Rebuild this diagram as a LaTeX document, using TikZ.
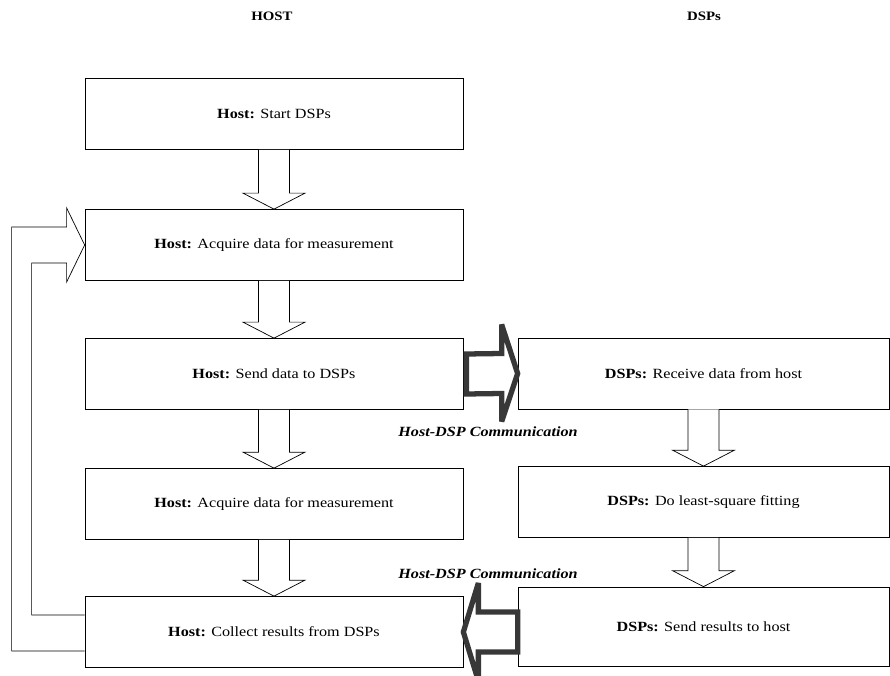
\documentclass[tikz,border=0pt]{standalone}
\usepackage{fontspec}
\setmainfont[FakeStretch=1.15]{Liberation Serif}
\usetikzlibrary{calc}
\tikzset{
stepnode/.style = {draw, rectangle, inner sep=0pt, line width=0.6pt, text centered,
font=\fontsize{12}{14}\selectfont},
hostbox/.style = {stepnode, minimum width=11.34cm, minimum height=2.13cm},% host column
dspbox/.style  = {stepnode, minimum width=11.13cm, minimum height=2.13cm},% dsp column
hollow/.style  = {draw, fill=white, line width=0.6pt},% open block arrow
comm/.style    = {draw=black!78, fill=white, line width=4.5pt, miter limit=3},% host-dsp arrow
commlabel/.style = {font=\fontsize{12}{14}\selectfont\bfseries\itshape},
heading/.style = {font=\fontsize{11}{13}\selectfont\bfseries}
}
\begin{document}
\begin{tikzpicture}[x=0.03cm, y=-0.03cm]
	\useasboundingbox (0,0) rectangle (890,676);
	% column titles
	\node [heading] (thost) at (272,16) {HOST};
	\node [heading] (tdsp) at (704,16) {DSPs};
	% host side
	\node [hostbox] (h1) at (274,114) {\textbf{Host:} Start DSPs};
	\node [hostbox] (h2) at (274,245) {\textbf{Host:} Acquire data for measurement};
	\node [hostbox] (h3) at (274,374) {\textbf{Host:} Send data to DSPs};
	\node [hostbox] (h4) at (274,504) {\textbf{Host:} Acquire data for measurement};
	\node [hostbox] (h5) at (274,632) {\textbf{Host:} Collect results from DSPs};
	% dsp side
	\node [dspbox] (d1) at (703.5,373.5) {\textbf{DSPs:} Receive data from host};
	\node [dspbox] (d2) at (703.5,502) {\textbf{DSPs:} Do least-square fitting};
	\node [dspbox, minimum height=2.37cm] (d3) at (703.5,626.5) {\textbf{DSPs:} Send results to host};
	% flow arrows
	\foreach \a/\b in {h1/h2, h2/h3, h3/h4, h4/h5, d1/d2, d2/d3}
	  \draw [hollow] ($(\a.south)+(-15.5,0)$) -- ($(\b.north)+(-15.5,-16)$)
	    -- ($(\b.north)+(-31,-16)$) -- (\b.north) -- ($(\b.north)+(31,-16)$)
	    -- ($(\b.north)+(15.5,-16)$) -- ($(\a.south)+(15.5,0)$);
	% loop back
	\draw [hollow] ($(h5.west)+(0,19)$) -- ($(h5.west)+(-73,19)$) -- ($(h2.west)+(-73,-18)$)
	  -- ($(h2.west)+(-18,-18)$) -- ($(h2.west)+(-18,-37)$) -- (h2.west)
	  -- ($(h2.west)+(-18,37)$) -- ($(h2.west)+(-18,18)$) -- ($(h2.west)+(-53,18)$)
	  -- ($(h5.west)+(-53,-17)$) -- ($(h5.west)+(0,-17)$);
	% host-dsp communication
	\draw [comm] ($(h3.east)+(3,-20)$) -- ($(d1.west)+(-16,-20)$) -- ($(d1.west)+(-16,-49)$)
	  -- (d1.west) -- ($(d1.west)+(-16,48)$) -- ($(d1.west)+(-16,20)$) -- ($(h3.east)+(3,20)$) -- cycle;
	\draw [comm] ($(d3.west |- h5.east)+(0,-20)$) -- ($(h5.east)+(15,-20)$) -- ($(h5.east)+(15,-49)$)
	  -- (h5.east) -- ($(h5.east)+(15,49)$) -- ($(h5.east)+(15,20)$)
	  -- ($(d3.west |- h5.east)+(0,20)$) -- cycle;
	\node [commlabel] (c1) at (488,432) {Host-DSP Communication};
	\node [commlabel] (c2) at (488,574) {Host-DSP Communication};
\end{tikzpicture}
\end{document}
